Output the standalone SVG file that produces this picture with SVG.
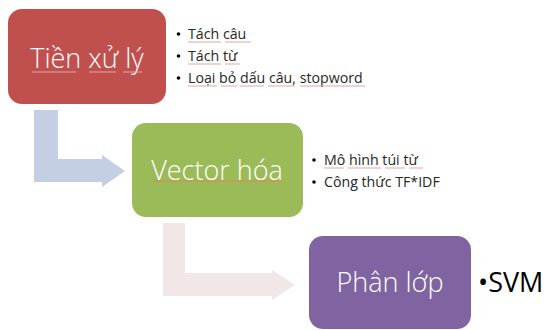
<svg xmlns="http://www.w3.org/2000/svg" width="547" height="330" viewBox="0 0 547 330">
<style>
.lbl{font-family:"Open Sans","Noto Sans","Liberation Sans",sans-serif;font-weight:300;font-size:27px;fill:#ffffff;text-anchor:middle}
.bul{font-family:"Open Sans","Noto Sans","Liberation Sans",sans-serif;font-size:14.2px;fill:#262626}
.dot{fill:#000000}
.big{font-family:"Open Sans","Noto Sans","Liberation Sans",sans-serif;font-size:27px;fill:#000000}
.sq{stroke:#E9A3A3;stroke-width:1;fill:none}
</style>
<rect width="547" height="330" fill="#ffffff"/>
<g id="connectors">
<path d="M34,110 H58 V159 H102 V155 L125,171 L102,187 V182 H34 Z" fill="#C5CFE4"/>
<path d="M163,223 H185 V273 H272 V270 L295,285 L272,300 V296 H163 Z" fill="#F2E7E7"/>
</g>
<g id="node-tien-xu-ly">
<rect x="8" y="9" width="158" height="95" rx="14" fill="#C0504D"/>
<text class="lbl" x="87" y="68">Tiền xử lý</text>
<path class="sq" d="M32,72 H76 M89,72 H116 M123,72 H142"/>
</g>
<g id="bullets-1">
<circle class="dot" cx="178.5" cy="34" r="1.8"/>
<text class="bul" x="188" y="39">Tách câu</text>
<circle class="dot" cx="178.5" cy="56" r="1.8"/>
<text class="bul" x="188" y="61">Tách từ</text>
<circle class="dot" cx="178.5" cy="78" r="1.8"/>
<text class="bul" x="188" y="83">Loại bỏ dấu câu, stopword</text>
<path class="sq" d="M188,42 H221 M225,42 H251 M188,64 H221 M225,64 H240 M188,86 H217 M221,86 H237 M240,86 H264 M268,86 H295 M300,86 H365"/>
</g>
<g id="node-vector-hoa">
<rect x="132" y="123" width="171" height="94" rx="14" fill="#9BBB59"/>
<text class="lbl" x="217" y="180">Vector hóa</text>
<path d="M153,181 H282" stroke="#D98A4A" stroke-width="1" fill="none"/>
</g>
<g id="bullets-2">
<circle class="dot" cx="314" cy="160" r="1.8"/>
<text class="bul" x="324" y="165">Mô hình túi từ</text>
<circle class="dot" cx="314" cy="182" r="1.8"/>
<text class="bul" x="324" y="187">Công thức TF*IDF</text>
<path class="sq" d="M324,168 H344 M348,168 H381 M385,168 H405 M409,168 H423"/>
</g>
<g id="node-phan-lop">
<rect x="309" y="236" width="162" height="93" rx="14" fill="#8064A2"/>
<text class="lbl" x="390" y="292">Phân lớp</text>
</g>
<g id="bullets-3">
<text class="big" x="478" y="292">•SVM</text>
</g>
</svg>
